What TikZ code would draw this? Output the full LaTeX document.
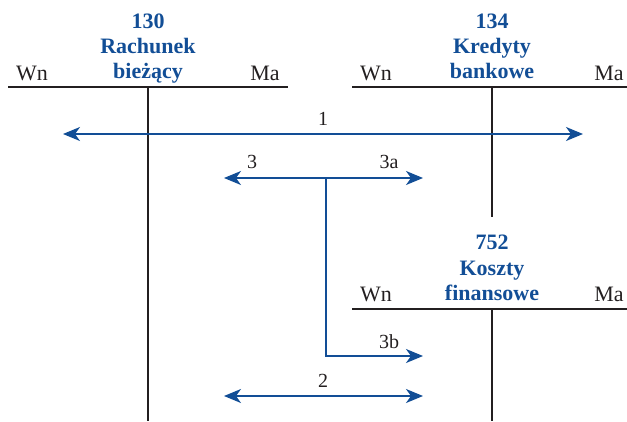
\documentclass[tikz,border=0pt]{standalone}
\usepackage{fontspec}
\setmainfont{Liberation Serif}
\usetikzlibrary{arrows.meta}
\definecolor{accblue}{RGB}{18,78,150}
\definecolor{tline}{RGB}{35,31,32}
\tikzset{
  tacc/.style={draw=tline, line width=1.6pt},
  side/.style={anchor=base, font=\fontsize{22}{22}\selectfont, text=tline, inner sep=0pt},
  title/.style={anchor=base, font=\fontsize{22}{25}\selectfont\bfseries, text=accblue, align=center, inner sep=0pt},
  flow/.style={draw=accblue, line width=1.6pt, -{Stealth[length=17pt,width=14pt,inset=5pt]}},
  flow2/.style={draw=accblue, line width=1.6pt, {Stealth[length=17pt,width=14pt,inset=5pt]}-{Stealth[length=17pt,width=14pt,inset=5pt]}},
  lbl/.style={anchor=base, font=\fontsize{20}{20}\selectfont, text=tline, inner sep=0pt}
}
\begin{document}
\begin{tikzpicture}[x=1pt,y=-1pt]
\useasboundingbox (0,0) rectangle (627,421);
% account 130
\coordinate (a1l) at (8,87);
\coordinate (a1r) at (288,87);
\coordinate (a1t) at (148,87);
\coordinate (a1b) at (148,421);
\draw[tacc] (a1l) -- (a1r);
\draw[tacc] (a1t) -- (a1b);
\node[title] (t130a) at (148,28) {130};
\node[title] (t130b) at (148,53) {Rachunek};
\node[title] (t130c) at (148,78) {bieżący};
\node[side] (wn1) at (32,80) {Wn};
\node[side] (ma1) at (265,80) {Ma};
% account 134
\coordinate (a2l) at (352,87);
\coordinate (a2r) at (627,87);
\coordinate (a2t) at (492,87);
\coordinate (a2b) at (492,217);
\draw[tacc] (a2l) -- (a2r);
\draw[tacc] (a2t) -- (a2b);
\node[title] (t134a) at (492,28) {134};
\node[title] (t134b) at (492,53) {Kredyty};
\node[title] (t134c) at (492,78) {bankowe};
\node[side] (wn2) at (376,80) {Wn};
\node[side] (ma2) at (609,80) {Ma};
% account 752
\coordinate (a3l) at (352,309);
\coordinate (a3r) at (627,309);
\coordinate (a3t) at (492,309);
\coordinate (a3b) at (492,421);
\draw[tacc] (a3l) -- (a3r);
\draw[tacc] (a3t) -- (a3b);
\node[title] (t752a) at (492,249) {752};
\node[title] (t752b) at (492,275) {Koszty};
\node[title] (t752c) at (492,300) {finansowe};
\node[side] (wn3) at (376,301) {Wn};
\node[side] (ma3) at (609,301) {Ma};
% flows
\coordinate (f1l) at (63,134);
\coordinate (f1r) at (583,134);
\draw[flow2] (f1l) -- (f1r);
\node[lbl] (l1) at (323,125) {1};
\coordinate (f3m) at (326,178);
\coordinate (f3l) at (224,178);
\coordinate (f3r) at (423,178);
\coordinate (f3c) at (326,356);
\coordinate (f3b) at (423,356);
\draw[flow] (f3m) -- (f3l);
\draw[flow] (f3m) -- (f3r);
\draw[flow] (f3m) -- (f3c) -- (f3b);
\node[lbl] (l3) at (252,168) {3};
\node[lbl] (l3a) at (389,168) {3a};
\node[lbl] (l3b) at (389,348) {3b};
\coordinate (f2l) at (224,396);
\coordinate (f2r) at (423,396);
\draw[flow2] (f2l) -- (f2r);
\node[lbl] (l2) at (323,387) {2};
\end{tikzpicture}
\end{document}
